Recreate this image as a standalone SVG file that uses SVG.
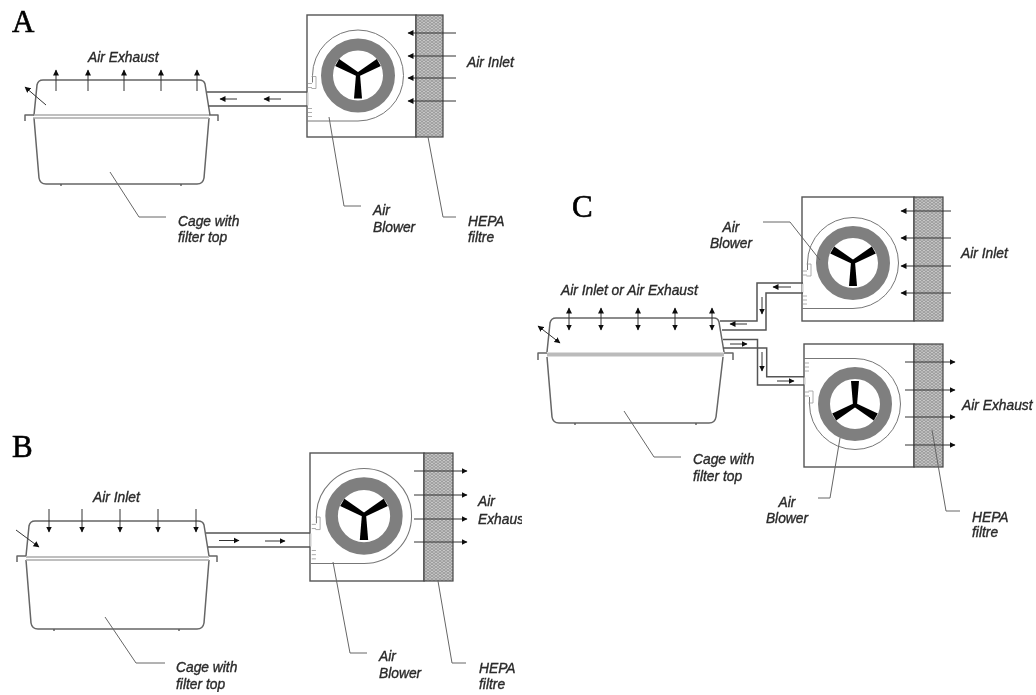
<svg xmlns="http://www.w3.org/2000/svg" width="1036" height="695" viewBox="0 0 1036 695">
<style>
.cage{fill:none;stroke:#666;stroke-width:1.5;stroke-linejoin:round}
.rim{fill:none;stroke:#aaa;stroke-width:1.3}
.box{fill:#fff;stroke:#555;stroke-width:1.4}
.filter{fill:url(#hatch);stroke:#444;stroke-width:1.2}
.gap{stroke:#ccc;stroke-width:2;fill:none}
.duct{fill:none;stroke:#555;stroke-width:1.5}
.flow path,.flow{fill:none;stroke:#333;stroke-width:1;marker-end:url(#head)}
.both path{fill:none;stroke:#333;stroke-width:1;marker-end:url(#head);marker-start:url(#head)}
.lead{fill:none;stroke:#666;stroke-width:1}
.t{font:italic 13.8px "Liberation Sans",Arial,sans-serif;fill:#2a2a2a;stroke:#2a2a2a;stroke-width:.35}
.p{font:31px "Liberation Serif","Times New Roman",serif;fill:#000;stroke:#000;stroke-width:.6}
</style>
<defs>
<filter id="soft" x="0" y="0" width="100%" height="100%"><feGaussianBlur stdDeviation="0.4"/></filter>
<marker id="head" markerUnits="userSpaceOnUse" markerWidth="7" markerHeight="7" refX="5.500" refY="3.500" orient="auto-start-reverse"><path d="M0 .5L6 3.500L0 6.500Z" fill="#111"/></marker>
<pattern id="hatch" width="4" height="3" patternUnits="userSpaceOnUse"><rect width="4" height="3" fill="#c8c8c8"/><path d="M0 0L2 1.500L4 0M0 3L2 1.500L4 3" fill="none" stroke="#8a8a8a" stroke-width=".7"/></pattern>
<clipPath id="edge"><rect x="0" y="0" width="522" height="695"/></clipPath>
<g id="fan">
<path id="blade" d="M-2 0L2 0L4 24L-4 24Z" fill="#000"/>
<use href="#blade" transform="rotate(120)"/>
<use href="#blade" transform="rotate(240)"/>
</g>
<g id="blower">
<path d="M-51 45.500H0A45.500 45.500 0 1 0 -45.500 0V7" fill="none" stroke="#777" stroke-width="1"/>
<path d="M-46.500 1H-42V13H-46.500M-50 8H-46M-50 12H-46M-50 33H-46M-50 37H-46M-50 41H-46" fill="none" stroke="#999" stroke-width=".8"/>
<circle r="31" fill="#fff" stroke="#7f7f7f" stroke-width="12"/>
<use href="#fan" y="-1"/>
</g>
</defs>
<rect width="1036" height="695" fill="#fff"/>
<g filter="url(#soft)">

<g id="panel-labels">
<text class="p" x="12" y="32">A</text>
<text class="p" x="12" y="457">B</text>
<text class="p" x="572" y="217">C</text>
</g>

<g id="cage-a">
<path class="cage" d="M34 115L37 85Q38 80 43 80H199Q204 80 205 84L210 115M34 118L39 178Q40 184 46 184H197Q203 184 204 178L209 118M60 185H62M180 185H182"/>
<path class="rim" d="M33 115H209M33 118H209"/>
<path class="cage" d="M25 121V115H34M218 121V115H209"/>
<text class="t" x="88" y="62">Air Exhaust</text>
<text class="t" x="178" y="226">Cage with</text>
<text class="t" x="178" y="242">filter top</text>
</g>

<g id="blower-a">
<rect class="box" x="307" y="15" width="109" height="122"/>
<rect class="filter" x="416" y="15" width="27" height="122"/>
<use href="#blower" x="358" y="75.500"/>
<path class="gap" d="M307.500 92.500V105.500"/>
<text class="t" x="467" y="67">Air Inlet</text>
<text class="t" x="373" y="215">Air</text>
<text class="t" x="373" y="232">Blower</text>
<text class="t" x="468" y="226">HEPA</text>
<text class="t" x="468" y="242">filtre</text>
</g>

<g id="cage-b">
<path class="cage" d="M26 556L29 526Q30 521 35 521H198Q203 521 204 525L209 556M26 560L31 623Q32 629 38 629H197Q203 629 204 623L209 560M53 630H55M178 630H180"/>
<path class="rim" d="M26 557H209M26 560H209"/>
<path class="cage" d="M17 562V556H26M217 562V556H209"/>
<text class="t" x="93" y="502">Air Inlet</text>
<text class="t" x="176" y="672">Cage with</text>
<text class="t" x="176" y="689">filter top</text>
</g>

<g id="blower-b">
<rect class="box" x="310" y="453" width="114" height="128"/>
<rect class="filter" x="424" y="453" width="29" height="128"/>
<use href="#blower" transform="translate(364 516) scale(1.045)"/>
<path class="gap" d="M310.500 533.500V546.500"/>
<text class="t" x="478" y="506">Air</text>
<text class="t" x="478" y="524" clip-path="url(#edge)">Exhaust</text>
<text class="t" x="379" y="661">Air</text>
<text class="t" x="379" y="678">Blower</text>
<text class="t" x="479" y="673">HEPA</text>
<text class="t" x="479" y="689">filtre</text>
</g>

<g id="cage-c">
<path class="cage" d="M547 352L550 323Q551 318 556 318H714Q718 318 719 322L724 352M547 357L552 417Q553 423 559 423H709Q715 423 716 417L723 357M574 424H576M695 424H697"/>
<path d="M547 354.500H724" fill="none" stroke="#bbb" stroke-width="4"/>
<path class="cage" d="M538 360V353H547M733 360V353H724"/>
<text class="t" x="561" y="295">Air Inlet or Air Exhaust</text>
<text class="t" x="693" y="464">Cage with</text>
<text class="t" x="693" y="481">filter top</text>
</g>

<g id="blower-c-inlet">
<rect class="box" x="802" y="197" width="112" height="124"/>
<rect class="filter" x="914" y="197" width="29" height="124"/>
<use href="#blower" x="853" y="263"/>
<path class="gap" d="M802.500 283.500V292.500"/>
<text class="t" x="961" y="258">Air Inlet</text>
<text class="t" x="731" y="232" text-anchor="middle">Air</text>
<text class="t" x="731" y="248" text-anchor="middle">Blower</text>
</g>

<g id="blower-c-exhaust">
<rect class="box" x="804" y="344" width="110" height="123"/>
<rect class="filter" x="914" y="344" width="29" height="123"/>
<use href="#blower" transform="translate(855 404) scale(1 -1)"/>
<path class="gap" d="M804.500 377.500V384.500"/>
<text class="t" x="962" y="410">Air Exhaust</text>
<text class="t" x="787" y="507" text-anchor="middle">Air</text>
<text class="t" x="787" y="523" text-anchor="middle">Blower</text>
<text class="t" x="972" y="522">HEPA</text>
<text class="t" x="972" y="537">filtre</text>
</g>

<g id="connectors">
<path class="duct" d="M207 92H307M208 106H307"/>
<path class="duct" d="M206 533H310M208 547H310"/>
<path class="duct" d="M720 321H757V283H803M722 330H766V293H803M723 339.500H757.500V385H804M723 348H766.700V376.700H804"/>
<path class="lead" d="M110 172L139 217H166M329 117L344 206H361M428 137L443 217H456"/>
<path class="lead" d="M105 617L136 663H165M333 562L350 653H367M438 581L452 663H466"/>
<path class="lead" d="M624 411L654 457H681M763 222H790L820 260M840 438L830 498H818M932 430L946 511H960"/>
<g class="flow">
<path d="M237 99H220"/><path d="M281 99H264"/>
<path d="M56 91V70"/><path d="M88 91V70"/><path d="M124 91V70"/><path d="M161 91V70"/><path d="M197 91V70"/><path d="M46 105L25 87"/>
<path d="M456 33H408"/><path d="M456 56H408"/><path d="M456 78H408"/><path d="M456 101H408"/>
<path d="M219 540.500H239"/><path d="M265 541H285"/>
<path d="M49 509V532"/><path d="M82 509V532"/><path d="M120 509V532"/><path d="M158 509V532"/><path d="M196 509V532"/><path d="M16 530L39 547"/>
<path d="M414 471H467"/><path d="M414 495H467"/><path d="M414 519H467"/><path d="M414 542H467"/>
<path d="M791 287H773"/><path d="M762 297V314"/><path d="M747 324H730"/><path d="M730 344H747"/><path d="M762 352V371"/><path d="M777 381H794"/>
<path d="M951 211H901"/><path d="M951 238H901"/><path d="M951 266H901"/><path d="M951 293H901"/>
<path d="M905 362H955"/><path d="M905 390H955"/><path d="M905 417H955"/><path d="M905 445H955"/>
</g>
<g class="both">
<path d="M569 308V330"/><path d="M601 308V330"/><path d="M638 308V330"/><path d="M675 308V330"/><path d="M712 308V330"/><path d="M538 326L560 343"/>
</g>
</g>
</g>
</svg>
